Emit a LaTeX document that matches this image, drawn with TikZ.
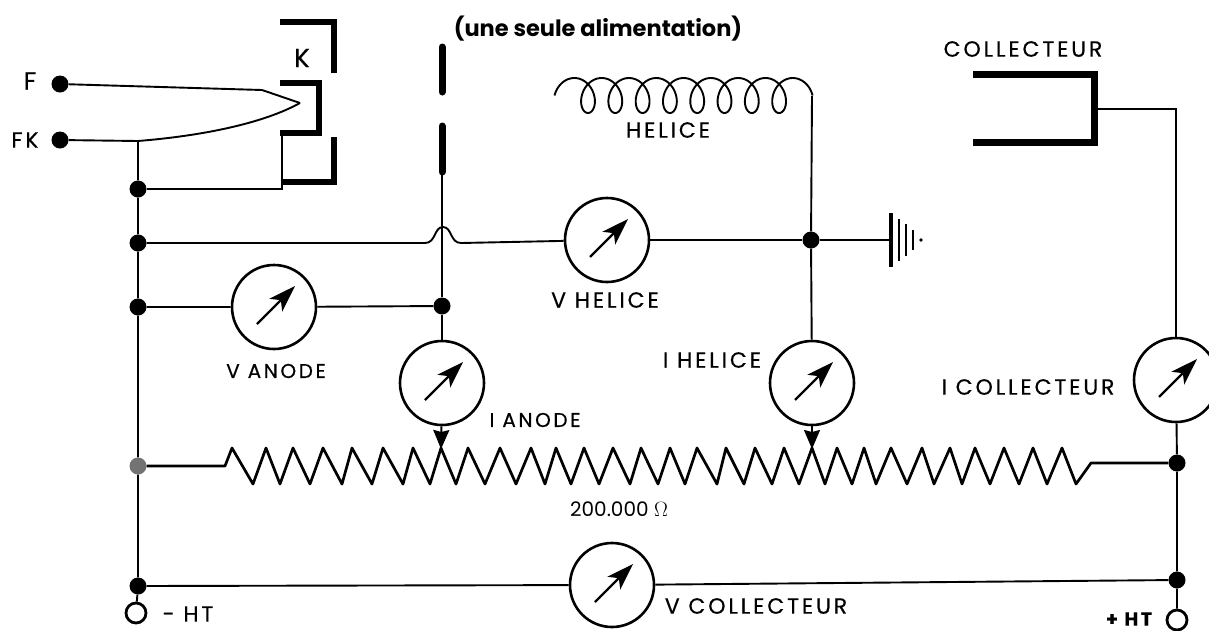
\documentclass[tikz,border=0pt]{standalone}
\usepackage{fontspec}
\setmainfont{Poppins}
\newfontfamily\capfont[LetterSpace=13,FakeBold=0.4]{Poppins}
\usetikzlibrary{arrows.meta}
\tikzset{
	wire/.style={line width=1.9pt},
	electrode/.style={line width=6pt, line join=miter},
	dot/.style={circle, fill=black, inner sep=0pt, minimum size=17pt},
	ring/.style={circle, draw, line width=2.8pt, fill=white, inner sep=0pt, minimum size=20pt},
	meter/.style={circle, draw, line width=2.6pt, inner sep=0pt, minimum size=84pt},
	needle/.style={line width=2.4pt, -{Stealth[length=27pt,width=18pt,inset=7pt]}},
	wiper/.style={line width=2pt, -{Stealth[length=19pt,width=16pt,inset=2pt]}},
	caption/.style={inner sep=0pt, font=\capfont\fontsize{22}{24}\selectfont}
}
\begin{document}
\begin{tikzpicture}[x=1pt, y=-1pt]
	\useasboundingbox (0,0) rectangle (1209,630);
	\clip (0,0) rectangle (1209,630);

	% junctions
	\foreach \name/\cx/\cy in {fdot/60/84, fkdot/60/140, busa/138/189, busb/138/243, busc/138/307, buse/138/586, griddot/442/306, heldot/811/240, rightd/1177/463, righte/1177/580} {
		\node[dot] (\name) at (\cx,\cy) {};
	}
	\node[dot, fill=black!55] (busd) at (138,466) {};
	\node[ring] (minusht) at (136,613) {};
	\node[ring] (plusht) at (1177,620) {};

	% meters
	\foreach \name/\cx/\cy in {vanode/274/307, vhelice/607/240, ianode/442/383, ihelice/812/383, icoll/1176/380, vcoll/612/585} {
		\node[meter] (\name) at (\cx,\cy) {};
		\draw[needle] ([shift={(-17,17)}]\name.center) -- ([shift={(21,-21)}]\name.center);
	}

	\coordinate (fbend) at (262,90);
	\coordinate (ftip) at (300,103);
	\coordinate (fkjoin) at (138,141);
	\coordinate (kfoot) at (282,189);
	\coordinate (kback) at (282,134);
	\coordinate (gridlow) at (442,175);
	\coordinate (hopin) at (425,243);
	\coordinate (hopout) at (461,243);
	\coordinate (helend) at (812,96);
	\coordinate (colback) at (1095,109);
	\coordinate (gnd) at (891,240);
	\coordinate (rleft) at (225,466);
	\coordinate (rright) at (1091,463);
	\coordinate (tapa) at (441,449);
	\coordinate (tapb) at (812,449);

	% filament and cathode
	\draw[wire] (fdot) -- (fbend) -- (ftip);
	\draw[wire] (fkdot) -- (fkjoin) .. controls (200,136) and (262,124) .. (ftip);
	\draw[electrode] (280,22) -- (334,22) -- (334,73);
	\draw[electrode] (280,83) -- (319,83) -- (319,133) -- (280,133);
	\draw[electrode] (334,137) -- (334,182) -- (282,182);
	\draw[wire] (busa) -- (kfoot) -- (kback);

	% anode
	\draw[electrode, line width=7pt, line cap=round] (442,47) -- (442,92);
	\draw[electrode, line width=7pt, line cap=round] (442,126) -- (442,172);

	% helix
	\draw[wire] plot[domain=-270:2790, samples=500, smooth] ({588+0.07583*\x-13*sin(\x)}, {95.5+17.5*cos(\x)});
	\draw[wire] (helend) -- (heldot);

	% collector
	\draw[electrode, line width=7pt] (973,74) -- (1094,74) -- (1094,142) -- (973,142);

	% left and right rails
	\draw[wire] (fkjoin) -- (busa) -- (busb) -- (busc) -- (busd) -- (buse) -- (minusht);
	\draw[wire] (colback) -| (icoll);
	\draw[wire] (icoll) -- (rightd) -- (righte) -- (plusht);

	% horizontal runs
	\draw[wire] (busb) -- (hopin) .. controls (436,243) and (434,227) .. (443,227) .. controls (452,227) and (450,243) .. (hopout) -- (vhelice);
	\draw[wire] (vhelice) -- (heldot) -- (gnd);
	\draw[wire] (busc) -- (vanode) -- (griddot);
	\draw[wire] (gridlow) -- (griddot) -- (ianode);
	\draw[wire] (heldot) -- (ihelice);
	\draw[wire] (buse) -- (vcoll) -- (righte);

	% ground
	\foreach \bx/\bh/\bw in {891/27/3.6, 899/21/2.8, 906/16/2.4, 913/10/2.2} {
		\draw[line width=\bw pt] (\bx,240-\bh) -- (\bx,240+\bh);
	}
	\fill (921,240) circle (1.8);

	% resistor
	\draw[wire, line width=2.7pt, line join=round] (busd) -- (rleft)
		\foreach \pk/\vl in {232/253,266/280,293/310,323/342,352/372,383/403,413/430,441/456,468/485,500/516,531/545,556/571,584/599,613/630,641/658,670/685,697/717,726/744,755/772,784/799,812/825,837/852,864/876,891/907,922/934,950/962,975/990,1004/1019,1033/1047,1062/1076} {
			-- (\pk,448) -- (\vl,484)
		} -- (rright) -- (rightd);
	\draw[wiper] (ianode) -- (tapa);
	\draw[wiper] (ihelice) -- (tapb);

	% labels
	\node[caption, font=\fontsize{22.5}{24}\selectfont\bfseries] (title) at (598,29) {(une seule alimentation)};
	\node[caption, font=\capfont\fontsize{25}{26}\selectfont] (lf) at (30,81) {F};
	\node[caption] (lfk) at (25,140) {FK};
	\node[caption, font=\capfont\fontsize{26}{28}\selectfont] (lk) at (302,58) {K};
	\node[caption] (lhel) at (668,130) {HELICE};
	\node[caption] (lcol) at (1023,49) {COLLECTEUR};
	\node[caption] (lvhel) at (605,300) {V HELICE};
	\node[caption, font=\capfont\fontsize{20}{22}\selectfont] (lvan) at (276,371) {V ANODE};
	\node[caption, font=\capfont\fontsize{20}{22}\selectfont] (lian) at (535,420) {I ANODE};
	\node[caption] (lihel) at (712,360) {I HELICE};
	\node[caption] (licol) at (1028,387) {I COLLECTEUR};
	\node[caption] (lvcol) at (756,606) {V COLLECTEUR};
	\node[caption, font=\fontsize{20}{22}\selectfont] (lohm) at (619,509) {200.000 $\Omega$};
	\node[caption] (lmoins) at (188,614) {- HT};
	\node[caption, font=\capfont\fontsize{19}{20}\selectfont\bfseries] (lplus) at (1129,619) {+ HT};
\end{tikzpicture}
\end{document}
